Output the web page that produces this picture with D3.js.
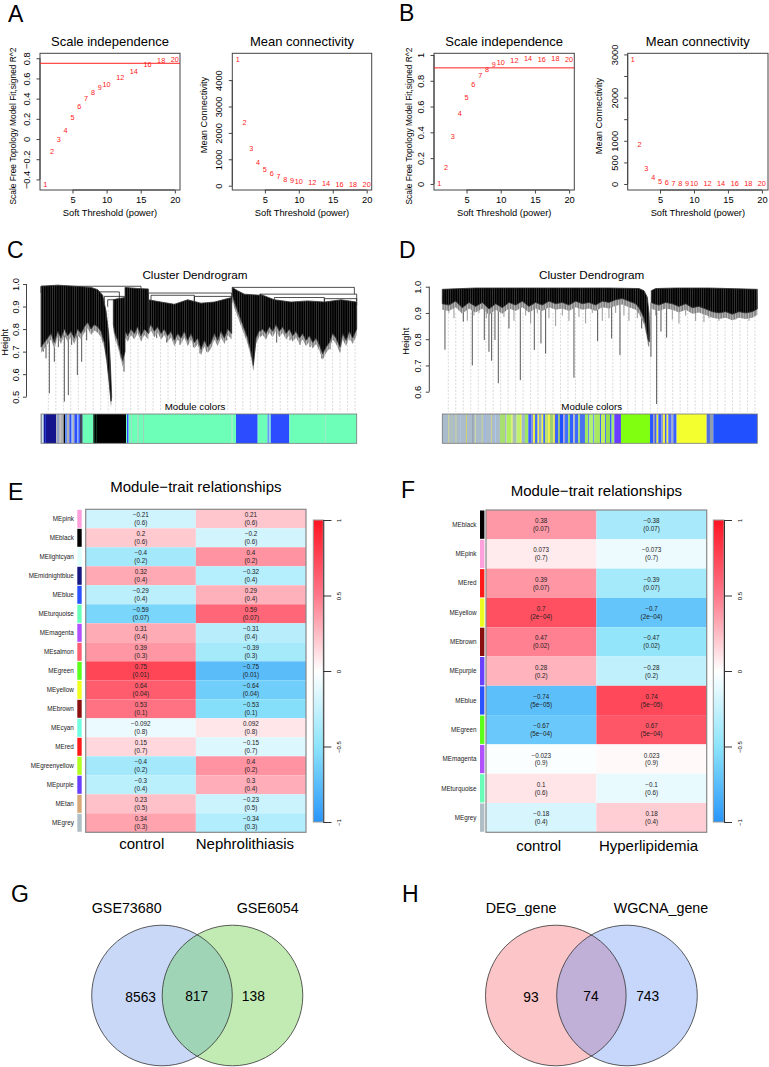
<!DOCTYPE html>
<html><head><meta charset="utf-8">
<script src="https://cdn.jsdelivr.net/npm/d3@7"></script>
<style>
body{margin:0;background:#fff}
svg{display:block}
text{font-family:"Liberation Sans",Arial,Helvetica,sans-serif;fill:#000}
</style>
</head><body>
<svg id="fig" width="769" height="1067"></svg>
<script>
// ===================== DATA =====================
// Panels A/B: soft-threshold analysis
const powers = [1,2,3,4,5,6,7,8,9,10,12,14,16,18,20];
const sftA_R2 = [-0.45,-0.12,0.0,0.08,0.21,0.32,0.40,0.46,0.51,0.545,0.61,0.67,0.74,0.78,0.79];
const sftA_k  = [4788,2386,1417,898,633,470,341,254,205,152,114,90,64,53,50];
const sftB_R2 = [0.0,0.13,0.37,0.55,0.67,0.775,0.84,0.89,0.93,0.94,0.96,0.97,0.965,0.97,0.965];
const sftB_k  = [2886,919,363,155,69,30,22,16,12,9,6,4,3,2,2];
const cutA = 0.75, cutB = 0.9;
const xTicksSft = [5,10,15,20];
const yTicksA_R2 = [-0.4,-0.2,0,0.2,0.4,0.6,0.8];
const yTicksA_k  = [0,1000,2000,3000,4000];
const yTicksB_R2 = [0,0.2,0.4,0.6,0.8,1.0];
const yTicksB_k  = [0,500,1000,1500,2000,2500,3000];
const yLabelsB_k = [0,500,1000,2000,3000];

// Panel C dendrogram (leaf order 0..947, merge height)
const dendC_masses = [
  [[0,0.99],[50,0.995],[100,0.99],[150,0.985],[170,0.975],[185,0.95],[195,0.88],[203,0.78],[208,0.65],[212,0.50],[210,0.48],[205,0.56],[198,0.66],[190,0.74],[180,0.79],[170,0.81],[160,0.82],[150,0.80],[140,0.83],[130,0.81],[120,0.78],[110,0.80],[100,0.76],[90,0.79],[80,0.77],[70,0.80],[60,0.76],[50,0.79],[40,0.74],[30,0.78],[20,0.76],[10,0.74],[0,0.72]],
  [[217,0.93],[230,0.935],[252,0.94],[252,0.70],[245,0.66],[238,0.70],[230,0.75],[222,0.78],[217,0.82]],
  [[252,0.985],[290,0.98],[322,0.978],[322,0.78],[310,0.80],[300,0.77],[290,0.81],[280,0.78],[270,0.80],[260,0.77],[252,0.79]],
  [[322,0.93],[360,0.92],[400,0.91],[440,0.93],[480,0.915],[520,0.92],[572,0.94],[572,0.78],[560,0.80],[550,0.76],[540,0.79],[530,0.75],[520,0.78],[510,0.74],[500,0.72],[490,0.75],[480,0.71],[470,0.76],[460,0.74],[450,0.78],[440,0.75],[430,0.79],[420,0.76],[410,0.78],[400,0.75],[390,0.79],[380,0.77],[370,0.80],[360,0.78],[350,0.81],[340,0.79],[330,0.82],[322,0.80]],
  [[574,0.985],[590,0.97],[610,0.955],[657,0.95],[657,0.80],[645,0.76],[637,0.64],[630,0.70],[620,0.76],[610,0.80],[600,0.84],[590,0.88],[580,0.92],[574,0.95]],
  [[657,0.955],[700,0.93],[750,0.92],[800,0.925],[850,0.92],[900,0.93],[947,0.92],[947,0.80],[935,0.76],[925,0.79],[915,0.75],[905,0.78],[897,0.72],[885,0.76],[875,0.78],[865,0.74],[855,0.72],[845,0.69],[835,0.73],[825,0.76],[815,0.74],[805,0.77],[795,0.75],[785,0.78],[775,0.76],[765,0.79],[755,0.77],[745,0.80],[735,0.78],[725,0.81],[715,0.79],[705,0.82],[695,0.79],[685,0.81],[675,0.78],[665,0.80],[657,0.79]]
];
const dendC_merges = [[0,300,0.99],[170,235,0.965],[190,250,0.945],[200,252,0.93],[322,572,0.96],[330,460,0.95],[460,572,0.945],[574,940,0.985],[657,947,0.955],[700,850,0.94],[850,947,0.935]];
const dendC_spikes = [[7,0.70],[15,0.67],[25,0.515],[40,0.655],[52,0.72],[70,0.478],[82,0.507],[92,0.73],[109,0.596],[122,0.655],[137,0.75],[249,0.611],[277,0.79],[297,0.77],[347,0.76],[377,0.74],[417,0.73],[437,0.75],[457,0.72],[477,0.692],[497,0.70],[527,0.74],[557,0.75],[637,0.64],[677,0.77],[707,0.74],[747,0.75],[777,0.73],[807,0.72],[842,0.67],[867,0.71],[897,0.70],[927,0.75],[942,0.76]];
const modC = [[0,4,"#8fa8c0"],[4,8,"#c8e8f0"],[8,45,"#14148c"],[12,14,"#3050ff"],[45,58,"#b5b5b5"],[50,52,"#5080ff"],[58,68,"#b0b0b0"],[68,72,"#000000"],[72,78,"#6090ff"],[78,85,"#b0b0b0"],[85,90,"#3050ff"],[90,95,"#80a8ff"],[95,100,"#b0b0b0"],[100,108,"#2a50ff"],[108,112,"#90b0ff"],[112,118,"#3a60ff"],[118,122,"#000000"],[122,125,"#203080"],[125,157,"#6dffb8"],[157,255,"#000000"],[160,162,"#0a5030"],[165,167,"#124a2a"],[255,258,"#6dffb8"],[258,262,"#3050ff"],[262,264,"#60a0ff"],[264,270,"#6dffb8"],[270,272,"#90c0a8"],[272,290,"#6dffb8"],[290,293,"#80c0a0"],[293,307,"#6dffb8"],[307,309,"#80c0a0"],[309,572,"#6dffb8"],[572,574,"#a0d0c0"],[574,585,"#6dffb8"],[585,650,"#2b4dff"],[650,680,"#6dffb8"],[680,683,"#3050ff"],[683,686,"#70b0ff"],[686,689,"#6dffb8"],[689,745,"#2b4dff"],[745,852,"#6dffb8"],[852,854,"#90d8c0"],[854,947,"#6dffb8"]];

// Panel D dendrogram (leaf order 0..945)
const dendD_masses = [
  [[0,0.99],[100,0.995],[300,0.995],[500,0.995],[590,0.993],[605,0.985],[615,0.96],[620,0.90],[622,0.82],[621,0.79],[617,0.80],[612,0.84],[605,0.88],[598,0.90],[590,0.92],[580,0.935],[560,0.945],[540,0.955],[520,0.95],[500,0.94],[480,0.945],[460,0.93],[440,0.94],[420,0.935],[400,0.945],[380,0.93],[360,0.94],[340,0.935],[320,0.945],[300,0.93],[280,0.94],[260,0.925],[240,0.945],[220,0.93],[200,0.94],[180,0.92],[160,0.935],[140,0.915],[120,0.94],[100,0.925],[80,0.94],[60,0.92],[40,0.945],[20,0.93],[0,0.935]],
  [[627,0.985],[640,0.993],[700,0.995],[800,0.995],[945,0.99],[945,0.915],[930,0.905],[910,0.9],[890,0.905],[870,0.895],[850,0.905],[830,0.9],[810,0.905],[790,0.915],[770,0.925],[750,0.92],[730,0.935],[710,0.925],[690,0.935],[670,0.94],[650,0.93],[635,0.935],[627,0.94]]
];
const dendD_spikes = [[8,0.76],[63,0.867],[90,0.70],[126,0.797],[140,0.752],[148,0.718],[158,0.797],[168,0.632],[200,0.841],[234,0.644],[276,0.759],[296,0.784],[310,0.745],[395,0.653],[466,0.793],[508,0.803],[533,0.74],[598,0.841],[626,0.733],[643,0.553],[656,0.829],[673,0.806]];
const dendD_short = [[20,0.9],[35,0.88],[50,0.91],[75,0.87],[95,0.89],[110,0.9],[132,0.88],[185,0.885],[215,0.87],[250,0.89],[265,0.86],[285,0.9],[320,0.88],[340,0.85],[360,0.89],[380,0.87],[410,0.885],[430,0.86],[450,0.9],[480,0.87],[500,0.88],[520,0.9],[545,0.89],[560,0.87],[585,0.88],[640,0.89],[690,0.875],[710,0.86],[730,0.89],[760,0.87],[785,0.865],[800,0.88],[830,0.87],[860,0.88],[880,0.875],[900,0.885],[920,0.87],[940,0.89]];
const modD = [[0,173,"#aabbcc"],[18,21,"#d8d890"],[28,30,"#c0d0a0"],[40,42,"#e0e080"],[53,55,"#b8c8e0"],[71,74,"#d0d070"],[90,93,"#909aa8"],[98,100,"#e8e88a"],[118,121,"#c8d890"],[128,130,"#a0b0ff"],[146,148,"#e0e070"],[158,161,"#b0c8f0"],
  [173,188,"#a8e070"],[188,193,"#aab8c8"],[193,208,"#b0f060"],[208,211,"#e8f040"],[211,223,"#a8c0b0"],[223,233,"#c0f070"],[233,238,"#e0f040"],[238,248,"#a0b8c8"],[248,258,"#9fe860"],
  [258,268,"#3a60ff"],[268,273,"#8090d0"],[273,278,"#f0f030"],[278,286,"#4070ff"],[286,290,"#f0f040"],[290,298,"#90a8c8"],[298,303,"#e8f030"],[303,308,"#3060ff"],
  [308,318,"#c0e070"],[318,323,"#f0f040"],[323,333,"#a0d070"],[333,338,"#e0e050"],
  [338,348,"#3a60ff"],[348,353,"#8cc060"],[353,363,"#2050ff"],[363,368,"#a0a0d0"],[368,378,"#4070ff"],[378,383,"#90e050"],[383,393,"#3060ff"],[393,398,"#b0b8c8"],[398,408,"#3a6aff"],[408,413,"#a0e060"],[413,428,"#4a70f0"],
  [428,438,"#a0e860"],[438,441,"#3060ff"],[441,453,"#b0f070"],[453,456,"#4070ff"],[456,473,"#a8e860"],[473,476,"#3a60ff"],[476,488,"#c0f060"],[488,491,"#4a70ff"],[491,503,"#98e050"],[503,508,"#3060ff"],[508,516,"#a0e870"],
  [516,536,"#6a3cff"],[536,623,"#80ff10"],
  [623,633,"#2a55ff"],[633,638,"#9090b0"],[638,643,"#3a60ff"],[643,648,"#e8f030"],[648,658,"#3a60ff"],[658,663,"#90a0c0"],[663,668,"#f0f030"],[668,673,"#3a5aff"],[673,678,"#f0f040"],[678,688,"#5070ff"],[688,693,"#a0b0c0"],[693,703,"#3a60ff"],
  [703,793,"#f4ff30"],[793,803,"#5070e0"],[803,813,"#909cb0"],[813,945,"#2050ff"]];

// Panel E: module-trait (Nephrolithiasis)
const modulesE = ["MEpink","MEblack","MElightcyan","MEmidnightblue","MEblue","MEturquoise","MEmagenta","MEsalmon","MEgreen","MEyellow","MEbrown","MEcyan","MEred","MEgreenyellow","MEpurple","MEtan","MEgrey"];
const traitsE = ["control","Nephrolithiasis"];
const corE = [-0.21,0.2,-0.4,0.32,-0.29,-0.59,0.31,0.39,0.75,0.64,0.53,-0.092,0.15,-0.4,-0.3,0.23,0.34];
const pE   = ["0.6","0.6","0.2","0.4","0.4","0.07","0.4","0.3","0.01","0.04","0.1","0.8","0.7","0.2","0.4","0.5","0.3"];
// Panel F: module-trait (Hyperlipidemia)
const modulesF = ["MEblack","MEpink","MEred","MEyellow","MEbrown","MEpurple","MEblue","MEgreen","MEmagenta","MEturquoise","MEgrey"];
const traitsF = ["control","Hyperlipidemia"];
const corF = [0.38,0.073,0.39,0.7,0.47,0.28,-0.74,-0.67,-0.023,0.1,-0.18];
const pF   = ["0.07","0.7","0.07","2e-04","0.02","0.2","5e-05","5e-04","0.9","0.6","0.4"];
const moduleColor = {MEpink:"#ff9fdc",MEblack:"#000000",MElightcyan:"#e0fffa",MEmidnightblue:"#161680",MEblue:"#2a52ff",MEturquoise:"#6affb8",MEmagenta:"#b050ff",MEsalmon:"#ff5f72",MEgreen:"#5cff1a",MEyellow:"#eeff20",MEbrown:"#8a1010",MEcyan:"#70ffe0",MEred:"#ff1a1a",MEgreenyellow:"#b0ff20",MEpurple:"#6a40ff",MEtan:"#d8a878",MEgrey:"#b0bfc5"};
const cbTicks = [1,0.5,0,-0.5,-1];

// Panels G/H: Venn diagrams
const vennG = {sets:["GSE73680","GSE6054"], counts:[8563,817,138], fills:["#c9d8f7","#c2ebb3","#9fd4b7"]};
const vennH = {sets:["DEG_gene","WGCNA_gene"], counts:[93,74,743], fills:["#fcc5c7","#c6d7fb","#c0afd7"]};

// ===================== DRAWING =====================
const svg = d3.select("#fig");
svg.append("rect").attr("width",769).attr("height",1067).attr("fill","#fff");
const defs = svg.append("defs");
const minus = s => String(s).replace(/-/g,"\u2212");

function letter(t,x,y){ svg.append("text").attr("x",x).attr("y",y).attr("font-size",23).text(t); }
letter("A",8,22); letter("B",399,21); letter("C",7,258); letter("D",399,258);
letter("E",8,500); letter("F",401,498); letter("G",11,902); letter("H",402,902);

function rYAxis(g, y, x0, ticks, labels, off, fs){
  const ax = d3.axisLeft(y).tickValues(ticks).tickSize(3.5).tickFormat(d => labels.includes(d) ? minus(d3.format("")(d)) : "");
  const a = g.append("g").attr("transform",`translate(${x0},0)`).call(ax);
  a.select(".domain").remove();
  a.append("line").attr("x1",0).attr("x2",0).attr("y1",y(ticks[0])).attr("y2",y(ticks[ticks.length-1])).attr("stroke","#444");
  a.selectAll(".tick line").attr("stroke","#444");
  a.selectAll(".tick text").attr("transform","rotate(-90)").attr("x",0).attr("y",-off).attr("dy",0)
    .attr("text-anchor","middle").attr("font-size",fs).attr("fill","#000").attr("font-family",null);
  return a;
}
function rXAxis(g, x, y0, ticks, fs){
  const ax = d3.axisBottom(x).tickValues(ticks).tickSize(3.5).tickFormat(d3.format(""));
  const a = g.append("g").attr("transform",`translate(0,${y0})`).call(ax);
  a.select(".domain").remove();
  a.append("line").attr("y1",0).attr("y2",0).attr("x1",x(ticks[0])).attr("x2",x(ticks[ticks.length-1])).attr("stroke","#444");
  a.selectAll(".tick line").attr("stroke","#444");
  a.selectAll(".tick text").attr("y",13.3).attr("dy",0).attr("font-size",fs).attr("fill","#000").attr("font-family",null);
}

function sftPanel(o){
  const g = svg.append("g");
  const [bx0,bx1,by0,by1] = o.box;
  const x = d3.scaleLinear().domain(o.xd).range([bx0,bx1]);
  const y = d3.scaleLinear().domain(o.yd).range([by1,by0]);
  g.append("rect").attr("x",bx0).attr("y",by0).attr("width",bx1-bx0).attr("height",by1-by0)
    .attr("fill","none").attr("stroke","#444").attr("stroke-width",1);
  rXAxis(g,x,by1,xTicksSft,9.3);
  rYAxis(g,y,bx0,o.yTicks,o.yLabels,10,9.3);
  if (o.cut !== undefined)
    g.append("line").attr("x1",bx0).attr("x2",bx1).attr("y1",y(o.cut)).attr("y2",y(o.cut)).attr("stroke","#ff2020").attr("stroke-width",1);
  g.selectAll("text.pt").data(powers).join("text").attr("class","pt")
    .attr("x",(d)=>x(d)).attr("y",(d,i)=>y(o.vals[i])).attr("dy","0.35em")
    .attr("text-anchor","middle").attr("font-size",7.3).style("fill","#ff2020").text(d=>d);
  g.append("text").attr("x",(bx0+bx1)/2).attr("y",45.7).attr("text-anchor","middle").attr("font-size",13).text(o.title);
  g.append("text").attr("x",(bx0+bx1)/2).attr("y",216).attr("text-anchor","middle").attr("font-size",9.3).text("Soft Threshold (power)");
  g.append("text").attr("transform",`translate(${o.ylx},${o.yly}) rotate(-90)`).attr("text-anchor","middle").attr("font-size",o.ylfs).text(o.ylab);
}
sftPanel({box:[40,180,53.3,190], xd:[0.24,20.76], yd:[-0.505,0.849], yTicks:yTicksA_R2, yLabels:yTicksA_R2, vals:sftA_R2, cut:cutA, title:"Scale independence", ylab:"Scale Free Topology Model Fit,signed R^2", ylx:15.5, yly:126, ylfs:8.4});
sftPanel({box:[232.3,371.7,53.3,190], xd:[0.2,20.74], yd:[-163,5015], yTicks:yTicksA_k, yLabels:yTicksA_k, vals:sftA_k, title:"Mean connectivity", ylab:"Mean Connectivity", ylx:206.5, yly:115, ylfs:9.3});
sftPanel({box:[434,574.3,53.3,190], xd:[0.24,20.76], yd:[-0.047,1.013], yTicks:yTicksB_R2, yLabels:yTicksB_R2, vals:sftB_R2, cut:cutB, title:"Scale independence", ylab:"Scale Free Topology Model Fit,signed R^2", ylx:411.5, yly:126, ylfs:8.4});
sftPanel({box:[627.7,768,53.3,190], xd:[0.25,20.9], yd:[-139,3025], yTicks:yTicksB_k, yLabels:yLabelsB_k, vals:sftB_k, title:"Mean connectivity", ylab:"Mean Connectivity", ylx:601.5, yly:116, ylfs:9.3});

// hatch pattern to give the dendrogram masses a strand texture
const pat = defs.append("pattern").attr("id","strands").attr("patternUnits","userSpaceOnUse").attr("width",2.2).attr("height",10);
pat.append("rect").attr("width",2.2).attr("height",10).attr("fill","#000");
pat.append("rect").attr("x",1.5).attr("width",0.7).attr("height",10).attr("fill","#3a3a3a");
const patG = defs.append("pattern").attr("id","strandsGrey").attr("patternUnits","userSpaceOnUse").attr("width",2.6).attr("height",10);
patG.append("rect").attr("width",2.6).attr("height",10).attr("fill","#bdbdbd");
patG.append("rect").attr("x",0.4).attr("width",1.1).attr("height",10).attr("fill","#6a6a6a");

// ---------- dendrograms ----------
function dendro(o){
  const g = svg.append("g");
  const X = d3.scaleLinear().domain(o.xd).range(o.xr);
  const H = d3.scaleLinear().domain(o.hd).range(o.hr);
  // guide lines
  const gl = d3.range(42).map(i => o.guide[0] + i*(o.guide[1]-o.guide[0])/41);
  g.selectAll("line.guide").data(gl).join("line").attr("class","guide")
    .attr("x1",d=>X(d)).attr("x2",d=>X(d)).attr("y1",H(0.9)).attr("y2",412)
    .attr("stroke","#c8c8c8").attr("stroke-width",0.7).attr("stroke-dasharray","2,1.5");
  // spikes
  g.selectAll("line.sp").data(o.spikes).join("line").attr("class","sp")
    .attr("x1",d=>X(d[0])).attr("x2",d=>X(d[0])).attr("y1",H(o.spikeTop)).attr("y2",d=>H(d[1]))
    .attr("stroke","#444").attr("stroke-width",0.9);
  if (o.short) g.selectAll("line.sh").data(o.short).join("line").attr("class","sh")
    .attr("x1",d=>X(d[0])).attr("x2",d=>X(d[0])).attr("y1",H(o.spikeTop)).attr("y2",d=>H(d[1]))
    .attr("stroke","#808080").attr("stroke-width",0.8);
  // merges
  if (o.merges) g.selectAll("path.mg").data(o.merges).join("path").attr("class","mg")
    .attr("d",d=>`M${X(d[0])},${H(d[2]-0.03)}V${H(d[2])}H${X(d[1])}V${H(d[2]-0.03)}`)
    .attr("fill","none").attr("stroke","#222").attr("stroke-width",0.8);
  // dense masses: strand-textured grey fringe below, then textured black body
  const line = d3.line().x(d=>X(d[0])).y(d=>H(d[1]));
  g.selectAll("path.fr").data(o.masses).join("path").attr("class","fr")
    .attr("d",d=>line(d)+"Z").attr("transform",`translate(0,${o.fringe})`).attr("fill","url(#strandsGrey)");
  g.selectAll("path.ms").data(o.masses).join("path").attr("class","ms")
    .attr("d",d=>line(d)+"Z").attr("fill","url(#strands)").attr("stroke","#333").attr("stroke-width",0.8).attr("stroke-linejoin","round");
  // axis
  const ax = g.append("g");
  rYAxis(ax,H,o.axisX,o.ticks,o.ticks,8,9.3);
  ax.selectAll(".tick text").text(d=>d3.format(".1f")(d));
  g.append("text").attr("transform",`translate(${o.hlx},${(o.hr[0]+o.hr[1])/2+2}) rotate(-90)`).attr("text-anchor","middle").attr("font-size",9.3).text("Height");
  g.append("text").attr("x",o.titleX).attr("y",279).attr("text-anchor","middle").attr("font-size",11.7).text("Cluster Dendrogram");
  g.append("text").attr("x",o.titleX).attr("y",409.5).attr("text-anchor","middle").attr("font-size",9.75).text("Module colors");
  // module color bar
  g.selectAll("rect.mc").data(o.mods).join("rect").attr("class","mc")
    .attr("x",d=>X(d[0])).attr("width",d=>X(d[1])-X(d[0])).attr("y",414).attr("height",29.3).attr("fill",d=>d[2]);
  g.append("rect").attr("x",X(o.xd[0])).attr("width",X(o.xd[1])-X(o.xd[0])).attr("y",414).attr("height",29.3)
    .attr("fill","none").attr("stroke","#777").attr("stroke-width",0.8);
}
dendro({xd:[0,947], xr:[41,356.7], hd:[0.5,1.0], hr:[396.7,284], masses:dendC_masses, spikes:dendC_spikes, spikeTop:0.8, merges:dendC_merges, fringe:6,
  mods:modC, ticks:[0.5,0.6,0.7,0.8,0.9,1.0], axisX:26.5, hlx:7.5, titleX:195, guide:[22,942]});
dendro({xd:[0,945], xr:[442.3,757.3], hd:[0.6,1.0], hr:[391.7,286.7], masses:dendD_masses, spikes:dendD_spikes, short:dendD_short, spikeTop:0.94, fringe:6,
  mods:modD, ticks:[0.6,0.7,0.8,0.9,1.0], axisX:429.3, hlx:408.5, titleX:591.7, guide:[18,938]});

// ---------- heatmaps ----------
const heatColor = d3.scaleLinear().domain([-1,-0.5,0,0.5,1])
  .range(["#2896fa","#8ce4fa","#ffffff","#ff788a","#ff1423"]).interpolate(d3.interpolateRgb);

function heatmap(o){
  const g = svg.append("g");
  const xb = d3.scaleBand().domain(o.traits).range(o.xr);
  const yb = d3.scaleBand().domain(o.mods).range(o.yr);
  const cells = [];
  o.mods.forEach((m,i)=>{ cells.push({m,t:o.traits[0],r:o.cor[i],p:o.p[i]}); cells.push({m,t:o.traits[1],r:-o.cor[i],p:o.p[i]}); });
  g.selectAll("rect.c").data(cells).join("rect").attr("class","c")
    .attr("x",d=>xb(d.t)).attr("y",d=>yb(d.m)).attr("width",xb.bandwidth()).attr("height",yb.bandwidth())
    .attr("fill",d=>heatColor(d.r));
  g.selectAll("text.v").data(cells).join("text").attr("class","v")
    .attr("x",d=>xb(d.t)+xb.bandwidth()/2).attr("y",d=>yb(d.m)+yb.bandwidth()/2-1.5)
    .attr("text-anchor","middle").attr("font-size",6.3).style("fill","#222").text(d=>minus(d.r));
  g.selectAll("text.pv").data(cells).join("text").attr("class","pv")
    .attr("x",d=>xb(d.t)+xb.bandwidth()/2).attr("y",d=>yb(d.m)+yb.bandwidth()/2+6.4)
    .attr("text-anchor","middle").attr("font-size",6.3).style("fill","#222").text(d=>"("+minus(d.p)+")");
  g.append("rect").attr("x",o.xr[0]).attr("y",o.yr[0]).attr("width",o.xr[1]-o.xr[0]).attr("height",o.yr[1]-o.yr[0])
    .attr("fill","none").attr("stroke","#888").attr("stroke-width",1.2);
  // side colors
  g.selectAll("rect.sc").data(o.mods).join("rect").attr("class","sc")
    .attr("x",o.sideX).attr("width",4.4).attr("y",d=>yb(d)+0.5).attr("height",yb.bandwidth()-1).attr("fill",d=>moduleColor[d]);
  g.selectAll("text.rl").data(o.mods).join("text").attr("class","rl")
    .attr("x",o.sideX-3.5).attr("y",d=>yb(d)+yb.bandwidth()/2+2.2).attr("text-anchor","end").attr("font-size",6.3).style("fill","#222").text(d=>d);
  g.selectAll("text.tl").data(o.traits).join("text").attr("class","tl")
    .attr("x",(d,i)=>xb(d)+xb.bandwidth()/2+o.tlShift[i]).attr("y",o.tlY).attr("text-anchor","middle").attr("font-size",15).text(d=>d);
  g.append("text").attr("x",(o.xr[0]+o.xr[1])/2).attr("y",o.titleY).attr("text-anchor","middle").attr("font-size",15).text("Module\u2212trait relationships");
  // color bar
  const cy = d3.scaleLinear().domain([-1,1]).range([822,520]);
  const gid = "grad"+o.id;
  const grad = defs.append("linearGradient").attr("id",gid).attr("x1",0).attr("y1",1).attr("x2",0).attr("y2",0);
  d3.range(0,1.0001,0.05).forEach(f=>grad.append("stop").attr("offset",f).attr("stop-color",heatColor(-1+2*f)));
  g.append("rect").attr("x",o.cbX).attr("y",520).attr("width",o.cbW).attr("height",302).attr("fill",`url(#${gid})`).attr("stroke","#999").attr("stroke-width",1);
  const ax = d3.axisRight(cy).tickValues(cbTicks).tickSize(8).tickFormat(d=>minus(d));
  const a = g.append("g").attr("transform",`translate(${o.cbX+o.cbW},0)`).call(ax);
  a.select(".domain").attr("stroke","#333");
  a.selectAll(".tick line").attr("stroke","#333");
  a.selectAll(".tick text").attr("transform","rotate(-90)").attr("x",0).attr("y",18).attr("dy",0)
    .attr("text-anchor","middle").attr("font-size",6).attr("fill","#222").attr("font-family",null);
}
heatmap({id:"E", traits:traitsE, mods:modulesE, cor:corE, p:pE, xr:[85.7,306], yr:[509.3,832.3], sideX:77.3, tlY:849, tlShift:[1,-6], titleY:492, cbX:313.3, cbW:10});
heatmap({id:"F", traits:traitsF, mods:modulesF, cor:corF, p:pF, xr:[486,706.7], yr:[510,832.3], sideX:480, tlY:851, tlShift:[-2.5,-3], titleY:496, cbX:713.3, cbW:10.7});

// ---------- venn ----------
function venn(o,v){
  const g = svg.append("g");
  const id = "clip"+o.id;
  const xs = d3.scaleLinear().domain([0,1]).range([o.cx, o.cx+o.d]);
  defs.append("clipPath").attr("id",id).append("circle").attr("cx",xs(0)).attr("cy",o.cy).attr("r",o.r);
  g.append("circle").attr("cx",xs(0)).attr("cy",o.cy).attr("r",o.r).attr("fill",v.fills[0]);
  g.append("circle").attr("cx",xs(1)).attr("cy",o.cy).attr("r",o.r).attr("fill",v.fills[1]);
  g.append("circle").attr("cx",xs(1)).attr("cy",o.cy).attr("r",o.r).attr("fill",v.fills[2]).attr("clip-path",`url(#${id})`);
  g.selectAll("circle.o").data([0,1]).join("circle").attr("class","o").attr("cx",d=>xs(d)).attr("cy",o.cy).attr("r",o.r)
    .attr("fill","none").attr("stroke","#333").attr("stroke-width",0.8);
  g.selectAll("text.s").data(v.sets).join("text").attr("class","s").attr("x",(d,i)=>o.labX[i]).attr("y",913.3)
    .attr("text-anchor","middle").attr("font-size",14.3).text(d=>d);
  g.selectAll("text.n").data(v.counts).join("text").attr("class","n").attr("x",(d,i)=>o.numX[i]).attr("y",(d,i)=>i===0?1002.3:1000.7)
    .attr("text-anchor","middle").attr("font-size",13.8).text(d=>d);
}
venn({id:"G", cx:162, d:70.5, cy:995.5, r:70.3, labX:[126.7,267.7], numX:[140.7,196.7,253.3]}, vennG);
venn({id:"H", cx:555.8, d:71.2, cy:995.5, r:70.3, labX:[521,661], numX:[531,591,647.7]}, vennH);
</script>
</body></html>
